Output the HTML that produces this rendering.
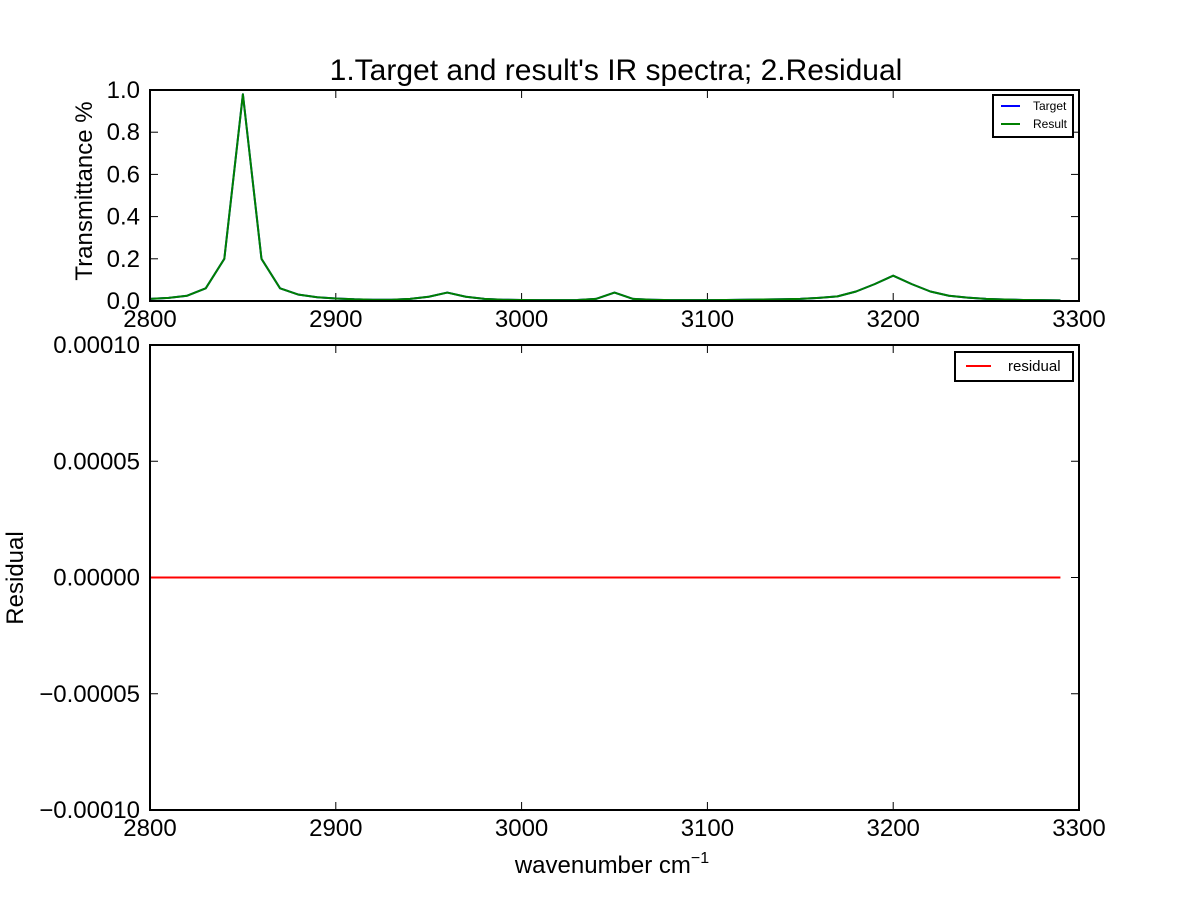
<!DOCTYPE html>
<html><head><meta charset="utf-8"><style>
html,body{margin:0;padding:0;background:#fff;}
svg{display:block;font-family:"Liberation Sans",sans-serif;}
</style></head><body>
<svg id="chart" width="1200" height="900" viewBox="0 0 1200 900" xmlns="http://www.w3.org/2000/svg">
<rect width="1200" height="900" fill="#fff"/>
<text x="616" y="80" font-size="30" text-anchor="middle">1.Target and result's IR spectra; 2.Residual</text>
<g id="top"></g>
<g id="bot"></g>
<text transform="translate(92,191) rotate(-90)" font-size="24" text-anchor="middle">Transmittance %</text>
<text transform="translate(23,578) rotate(-90)" font-size="24" text-anchor="middle">Residual</text>
<text x="612" y="873" font-size="24" text-anchor="middle">wavenumber cm<tspan font-size="16" dy="-10">−1</tspan></text>
</svg>
<script>
const wavenumbers=[2800,2810,2820,2830,2840,2850,2860,2870,2880,2890,2900,2910,2920,2930,2940,2950,2960,2970,2980,2990,3000,3010,3020,3030,3040,3050,3060,3070,3080,3090,3100,3110,3120,3130,3140,3150,3160,3170,3180,3190,3200,3210,3220,3230,3240,3250,3260,3270,3280,3290];
const targetValues=[0.01,0.015,0.025,0.06,0.2,0.98,0.2,0.06,0.03,0.018,0.012,0.008,0.006,0.006,0.01,0.02,0.04,0.02,0.01,0.006,0.005,0.004,0.004,0.005,0.01,0.04,0.01,0.006,0.004,0.004,0.004,0.005,0.006,0.007,0.008,0.01,0.015,0.022,0.045,0.08,0.12,0.08,0.045,0.025,0.016,0.01,0.007,0.005,0.004,0.003];
const resultValues=[0.01,0.015,0.025,0.06,0.2,0.98,0.2,0.06,0.03,0.018,0.012,0.008,0.006,0.006,0.01,0.02,0.04,0.02,0.01,0.006,0.005,0.004,0.004,0.005,0.01,0.04,0.01,0.006,0.004,0.004,0.004,0.005,0.006,0.007,0.008,0.01,0.015,0.022,0.045,0.08,0.12,0.08,0.045,0.025,0.016,0.01,0.007,0.005,0.004,0.003];
const residualValues=[0,0,0,0,0,0,0,0,0,0,0,0,0,0,0,0,0,0,0,0,0,0,0,0,0,0,0,0,0,0,0,0,0,0,0,0,0,0,0,0,0,0,0,0,0,0,0,0,0,0];
const xTicks=[2800,2900,3000,3100,3200,3300];
const topYTicks=[0,0.2,0.4,0.6,0.8,1.0];
const topYLabels=["0.0","0.2","0.4","0.6","0.8","1.0"];
const botYTicks=[-0.0001,-0.00005,0,0.00005,0.0001];
const botYLabels=["−0.00010","−0.00005","0.00000","0.00005","0.00010"];

const NS="http://www.w3.org/2000/svg";
function mk(parent,tag,attrs){const e=document.createElementNS(NS,tag);for(const k in attrs)e.setAttribute(k,attrs[k]);parent.appendChild(e);return e;}
const L=150,R=1079;
const xS=v=>L+(v-2800)/(3300-2800)*(R-L);

function axes(g,top,bottom,ymin,ymax,yt,yl,prefix){
  const yS=v=>bottom-(v-ymin)/(ymax-ymin)*(bottom-top);
  xTicks.forEach((t,i)=>{
    const x=xS(t);
    const a=mk(g,'line',{x1:x,x2:x,y1:bottom,y2:bottom-8,stroke:'#000','stroke-width':1});
    
    
    const b=mk(g,'line',{x1:x,x2:x,y1:top,y2:top+8,stroke:'#000','stroke-width':1});
    
    
    const tx=mk(g,'text',{x:x,y:bottom+26,'font-size':24,'text-anchor':'middle'});
    tx.textContent=t;
    
    
  });
  yt.forEach((t,i)=>{
    const y=yS(t);
    const a=mk(g,'line',{x1:L,x2:L+8,y1:y,y2:y,stroke:'#000','stroke-width':1});
    
    
    const b=mk(g,'line',{x1:R,x2:R-8,y1:y,y2:y,stroke:'#000','stroke-width':1});
    
    
    const tx=mk(g,'text',{x:L-10,y:y+8,'font-size':24,'text-anchor':'end'});
    tx.textContent=yl[i];
    
    
  });
  return yS;
}
function line(g,xs,ys,yS,color,name){
  const d=xs.map((x,i)=>(i?'L':'M')+xS(x).toFixed(2)+' '+yS(ys[i]).toFixed(2)).join(' ');
  const p=mk(g,'path',{d:d,fill:'none',stroke:color,'stroke-width':2,'stroke-linejoin':'round'});
  
  
}
function frame(g,top,bottom,name){
  const r=mk(g,'rect',{x:L,y:top,width:R-L,height:bottom-top,fill:'none',stroke:'#000','stroke-width':2});
  
  
}
const gt=document.getElementById('top');


const yT=axes(gt,90,301,0,1,topYTicks,topYLabels,'top');
line(gt,wavenumbers,targetValues,yT,'#0000ff','target-line');
line(gt,wavenumbers,resultValues,yT,'#008000','result-line');
frame(gt,90,301,'spectra-axes-frame');
const lg=mk(gt,'g',{});


mk(lg,'rect',{x:993,y:95,width:80,height:42,fill:'#fff',stroke:'#000','stroke-width':2});
mk(lg,'line',{x1:1001,x2:1020,y1:106,y2:106,stroke:'#0000ff','stroke-width':2});
mk(lg,'line',{x1:1001,x2:1020,y1:124,y2:124,stroke:'#008000','stroke-width':2});
const t1=mk(lg,'text',{x:1033,y:110,'font-size':12});t1.textContent='Target';


const t2=mk(lg,'text',{x:1033,y:128,'font-size':12});t2.textContent='Result';


const gb=document.getElementById('bot');


const yB=axes(gb,345,810,-0.0001,0.0001,botYTicks,botYLabels,'bottom');
line(gb,wavenumbers,residualValues,yB,'#ff0000','residual-line');
frame(gb,345,810,'residual-axes-frame');
const lg2=mk(gb,'g',{});


mk(lg2,'rect',{x:955,y:352,width:118,height:29,fill:'#fff',stroke:'#000','stroke-width':2});
mk(lg2,'line',{x1:966,x2:991,y1:366,y2:366,stroke:'#ff0000','stroke-width':2});
const t3=mk(lg2,'text',{x:1008,y:371,'font-size':15});t3.textContent='residual';


</script>
</body></html>
